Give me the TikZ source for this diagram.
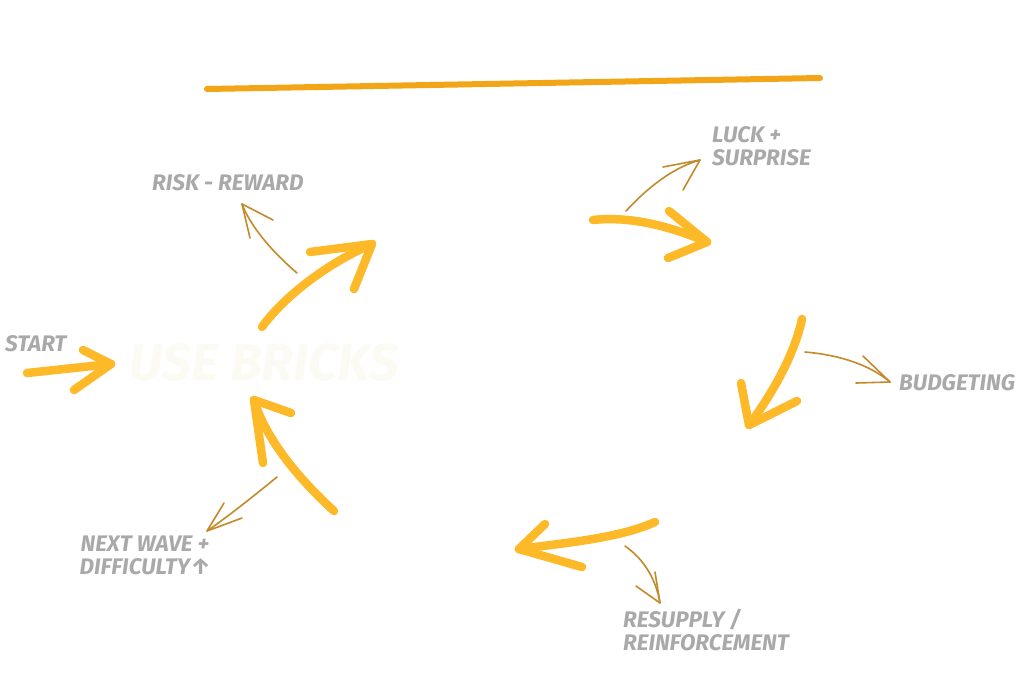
\documentclass[tikz,border=0pt]{standalone}
\usepackage{fontspec}
\setmainfont{Fira Sans}
\definecolor{arrowY}{HTML}{FDB927}
\definecolor{lineO}{HTML}{F2A516}
\definecolor{thinB}{HTML}{C48A2A}
\definecolor{labelgray}{HTML}{A9A9A9}
\definecolor{ghost}{HTML}{FBFAF3}
\begin{document}
\begin{tikzpicture}[x=1pt,y=-1pt,
 big/.style={draw=arrowY, line width=8.5pt, line cap=round, line join=round},
 thin/.style={draw=thinB, line width=1.6pt, line cap=round, line join=round},
 lbl/.style={text=labelgray, font=\fontsize{22.5}{23}\selectfont\bfseries\itshape, inner sep=0pt},
 ghosttext/.style={text=ghost, font=\fontsize{52}{56}\selectfont\bfseries\itshape, inner sep=0pt}]
\useasboundingbox[fill=white] (0,0) rectangle (1024,678);

% top line
\coordinate (tl1) at (207,89);
\coordinate (tl2) at (820,78);
\draw[draw=lineO, line width=6pt, line cap=round] (tl1) -- (tl2);

% labels
\node[lbl, anchor=west] (start) at (5,344) {START};
\node[lbl, anchor=west] (risk) at (152,183) {RISK - REWARD};
\node[lbl, anchor=north west, align=left] (luck) at (712,126) {LUCK +\\SURPRISE};
\node[lbl, anchor=west] (budget) at (899,383) {BUDGETING};
\node[lbl, anchor=north, align=center] (next) at (145,536) {NEXT WAVE +\\DIFFICULTY↑};
\node[lbl, anchor=north west, align=left] (resupply) at (623,609) {RESUPPLY /\\REINFORCEMENT};
\node[ghosttext] (use) at (264,362) {USE BRICKS};

% big arrows
\coordinate (s0) at (27,373); \coordinate (t0) at (111,364);
\draw[big] (s0) -- (t0);
\draw[big] (83,350) -- (t0) -- (74,390);

\coordinate (s1) at (262,327); \coordinate (t1) at (372,244);
\draw[big] (s1) .. controls (285,295) and (330,262) .. (t1);
\draw[big] (310,252) -- (t1) -- (354,289);

\coordinate (s2) at (593,220); \coordinate (t2) at (707,242);
\draw[big] (s2) .. controls (630,216) and (670,226) .. (t2);
\draw[big] (669,211) -- (t2) -- (668,258);

\coordinate (s3) at (802,319); \coordinate (t3) at (749,425);
\draw[big] (s3) .. controls (795,352) and (775,390) .. (t3);
\draw[big] (741,383) -- (t3) -- (797,401);

\coordinate (s4) at (655,522); \coordinate (t4) at (519,549);
\draw[big] (s4) .. controls (620,538) and (565,543) .. (t4);
\draw[big] (545,524) -- (t4) -- (582,567);

\coordinate (s5) at (334,511); \coordinate (t5) at (254,400);
\draw[big] (s5) .. controls (300,480) and (266,440) .. (t5);
\draw[big] (263,463) -- (t5) -- (291,413);

% thin arrows
\coordinate (a1) at (297,273); \coordinate (a2) at (242,204);
\draw[thin] (a1) .. controls (270,250) and (250,225) .. (a2);
\draw[thin] (273,220) -- (a2) -- (250,238);

\coordinate (b1) at (626,211); \coordinate (b2) at (700,160);
\draw[thin] (b1) .. controls (650,185) and (675,167) .. (b2);
\draw[thin] (663,167) -- (b2) -- (683,190);

\coordinate (c1) at (805,352); \coordinate (c2) at (890,382);
\draw[thin] (c1) .. controls (840,355) and (870,365) .. (c2);
\draw[thin] (863,356) -- (c2) -- (856,383);

\coordinate (d1) at (625,546); \coordinate (d2) at (660,603);
\draw[thin] (d1) .. controls (645,560) and (656,580) .. (d2);
\draw[thin] (636,586) -- (d2) -- (655,572);

\coordinate (e1) at (277,477); \coordinate (e2) at (207,531);
\draw[thin] (e1) .. controls (255,495) and (230,515) .. (e2);
\draw[thin] (242,518) -- (e2) -- (224,503);
\end{tikzpicture}
\end{document}
